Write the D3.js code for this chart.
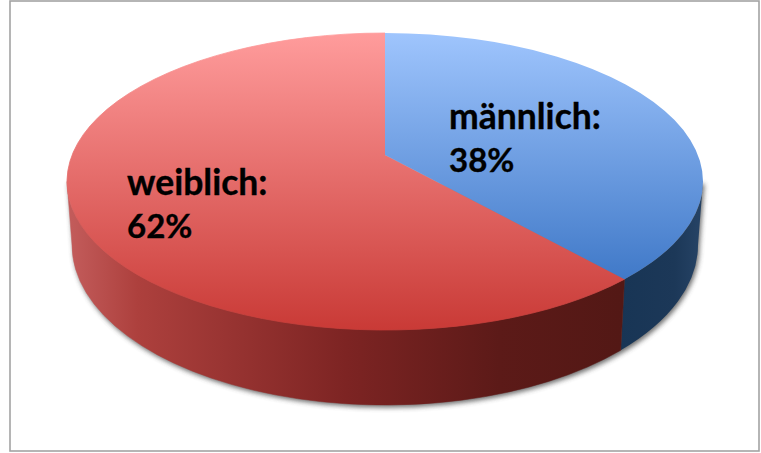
<!DOCTYPE html>
<html><head><meta charset="utf-8">
<script src="https://cdn.jsdelivr.net/npm/d3@7"></script>
<style>html,body{margin:0;padding:0;background:#fff;overflow:hidden}svg{display:block}
text{font-family:Lato,"Open Sans",sans-serif;font-weight:700;fill:#000;stroke:#000;stroke-width:0.35px}</style>
</head><body><svg id="c" width="761" height="453"></svg>
<script>
const categories = ["männlich", "weiblich"];
const values = [38, 62];
const labelPercents = ["38%", "62%"];

const svg = d3.select("#c");

// Projection of the tilted disc
const top_ = {cx: 385, cy: 181.5, rx: 318, ry: 148.5};
const low = {cx: 385, cy: 245, rx: 313, ry: 160};
const apex = {x: 385, y: 155};
const tilt = 0.487;

function rayPoint(a) { // a: clockwise from 12 o'clock
  const dx = Math.sin(a), dy = -Math.cos(a) * tilt;
  const ox = (apex.x - top_.cx) / top_.rx, oy = (apex.y - top_.cy) / top_.ry;
  const ux = dx / top_.rx, uy = dy / top_.ry;
  const A = ux * ux + uy * uy, B = 2 * (ox * ux + oy * uy), C = ox * ox + oy * oy - 1;
  const s = (-B + Math.sqrt(B * B - 4 * A * C)) / (2 * A);
  return [apex.x + s * dx, apex.y + s * dy];
}
function onLow(p) { // same ellipse parameter on the lower rim
  const sx = (p[0] - top_.cx) / top_.rx, cy = (p[1] - top_.cy) / top_.ry;
  return [low.cx + low.rx * sx, low.cy + low.ry * cy];
}
const arcTo = (e, p, large, sweep) => `A${e.rx},${e.ry} 0 ${large} ${sweep} ${p[0]},${p[1]}`;

const arcs = d3.pie().sort(null).value(d => d)(values);
const pCut = rayPoint(arcs[0].endAngle);
const pCutLow = onLow(pCut);
const rT = [top_.cx + top_.rx, top_.cy], lT = [top_.cx - top_.rx, top_.cy];
const rL = [low.cx + low.rx, low.cy], lL = [low.cx - low.rx, low.cy];

const defs = svg.append("defs");
function grad(id, x1, y1, x2, y2, stops) {
  const g = defs.append("linearGradient").attr("id", id).attr("gradientUnits", "userSpaceOnUse")
    .attr("x1", x1).attr("y1", y1).attr("x2", x2).attr("y2", y2);
  stops.forEach(s => g.append("stop").attr("offset", s[0]).attr("stop-color", s[1]));
}
grad("gBlue", 0, top_.cy - top_.ry, 0, pCut[1], [[0, "#9fc5fd"], [1, "#4079c8"]]);
grad("gRed", 0, top_.cy - top_.ry, 0, top_.cy + top_.ry, [[0, "#ff9c9c"], [1, "#c93a36"]]);
grad("gRedWall", lL[0], 0, pCutLow[0], 0, [[0, "#c25b5a"], [0.12, "#ad403d"], [0.5, "#7d2423"], [0.78, "#5c1a18"], [1, "#531815"]]);
grad("gBlueWall", pCutLow[0], 0, rL[0], 0, [[0, "#183555"], [0.7, "#1c3858"], [1, "#254264"]]);
const f = defs.append("filter").attr("id", "sh").attr("x", "-10%").attr("y", "-10%").attr("width", "120%").attr("height", "120%");
f.append("feGaussianBlur").attr("stdDeviation", 2.4);

// frame
svg.append("rect").attr("x", 10).attr("y", 1).attr("width", 749).attr("height", 450)
  .attr("fill", "#fff").attr("stroke", "#a3a3a3").attr("stroke-width", 1.6);

// shadow
const wallOutline = `M${rT} L${rL} ${arcTo(low, lL, 1, 1)} L${lT} Z`;
svg.append("path").attr("d", wallOutline).attr("transform", "translate(1.5,2.5)")
  .attr("fill", "#3c3c3c").attr("opacity", 0.75).attr("filter", "url(#sh)");

// walls
svg.append("path").attr("d", `M${rT} ${arcTo(top_, pCut, 0, 1)} L${pCutLow} ${arcTo(low, rL, 0, 0)} Z`)
  .attr("fill", "url(#gBlueWall)");
svg.append("path").attr("d", `M${pCut} ${arcTo(top_, lT, 0, 1)} L${lL} ${arcTo(low, pCutLow, 0, 0)} Z`)
  .attr("fill", "url(#gRedWall)").attr("stroke", "url(#gRedWall)").attr("stroke-width", 0.5);

// top face, red first so the blue slice closes the seam
const fills = ["url(#gBlue)", "url(#gRed)"];
svg.selectAll("path.slice").data(arcs.map((d, i) => ({d, i})).reverse()).join("path").attr("class", "slice")
  .attr("d", ({d}) => {
    const a = rayPoint(d.startAngle), b = rayPoint(d.endAngle === 2 * Math.PI ? 0 : d.endAngle);
    return `M${apex.x},${apex.y} L${a} ${arcTo(top_, b, d.endAngle - d.startAngle > Math.PI ? 1 : 0, 1)} Z`;
  })
  .attr("fill", ({i}) => fills[i])
  .attr("stroke", ({i}) => i === 1 ? fills[i] : "none")
  .attr("stroke-width", 0.8);

// labels
const labelPos = [[449, 129], [127, 195]];
categories.forEach((c, i) => {
  const t = svg.append("text").attr("font-size", 35.5);
  t.append("tspan").attr("x", labelPos[i][0]).attr("y", labelPos[i][1]).text(c + ":");
  t.append("tspan").attr("x", labelPos[i][0]).attr("y", labelPos[i][1] + 43).attr("font-size", 33).text(labelPercents[i]);
});
</script></body></html>
